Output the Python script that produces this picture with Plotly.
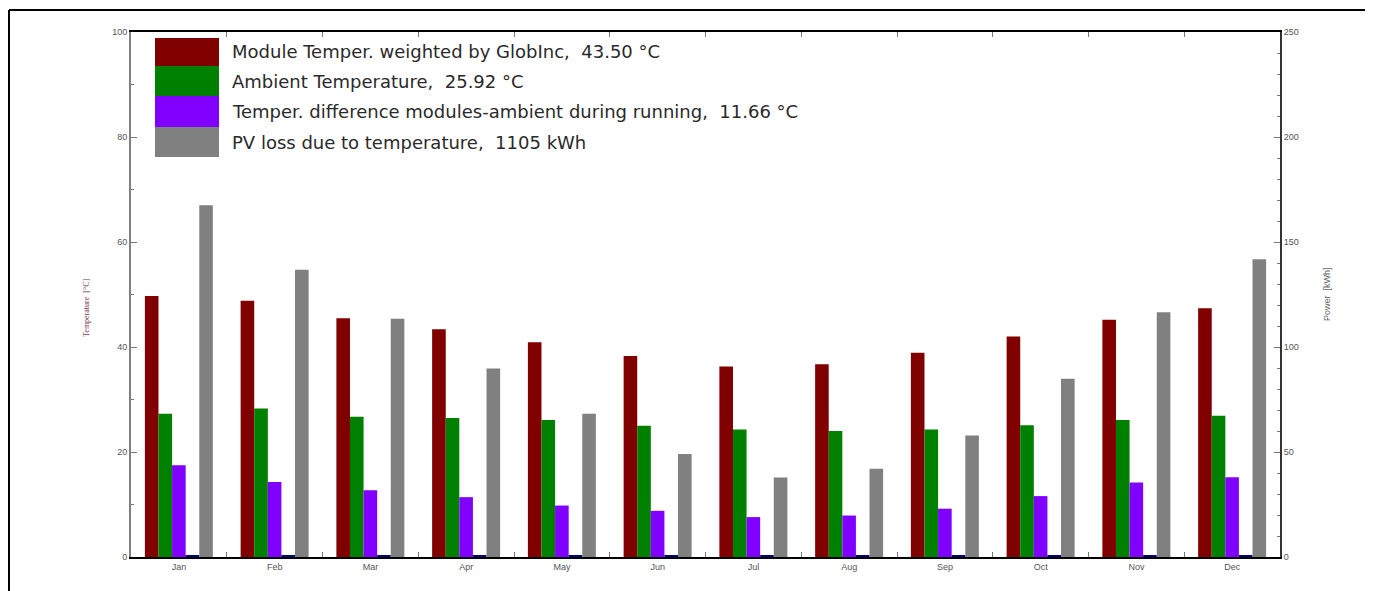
import plotly.graph_objects as go

months = ["Jan", "Feb", "Mar", "Apr", "May", "Jun", "Jul", "Aug", "Sep", "Oct", "Nov", "Dec"]
module_temp = [49.7, 48.8, 45.5, 43.4, 40.9, 38.3, 36.3, 36.7, 38.9, 42.0, 45.2, 47.4]
ambient_temp = [27.3, 28.3, 26.7, 26.5, 26.1, 25.0, 24.3, 24.0, 24.3, 25.1, 26.1, 26.9]
temp_diff = [17.5, 14.3, 12.7, 11.4, 9.8, 8.8, 7.6, 7.9, 9.2, 11.6, 14.2, 15.2]
baseline_marker = [0.3] * 12
pv_loss = [167.5, 136.8, 113.4, 89.8, 68.2, 49.1, 37.9, 42.0, 57.9, 84.9, 116.6, 141.8]

legend_labels = [
    "Module Temper. weighted by GlobInc,  43.50 °C",
    "Ambient Temperature,  25.92 °C",
    "Temper. difference modules-ambient during running,  11.66 °C",
    "PV loss due to temperature,  1105 kWh",
]
colors = ["#800000", "#008000", "#8000FF", "#808080"]
navy = "#000080"

# page has an 8px body margin
OFF = 8
W, H = 1373 - OFF, 591 - OFF
L, R, T, B = 131, 1280, 32, 557  # absolute screen px of plot area


def px_x(p):
    return (p - L) / (R - L)


def px_y(p):
    return (B - p) / (B - T)


bw = 0.142
off0 = -0.355

fig = go.Figure()
series = [
    (module_temp, colors[0], "y"),
    (ambient_temp, colors[1], "y"),
    (temp_diff, colors[2], "y"),
    (baseline_marker, navy, "y"),
    (pv_loss, colors[3], "y2"),
]
for k, (vals, col, ax) in enumerate(series):
    fig.add_trace(go.Bar(
        x=months, y=vals, yaxis=ax, width=bw, offset=off0 + k * bw,
        marker=dict(color=col, line=dict(width=0)), showlegend=False,
    ))

shapes = []
annotations = []
row_edges = [38, 66, 96, 127, 157]
for i, (lab, col) in enumerate(zip(legend_labels, colors)):
    shapes.append(dict(type="rect", xref="paper", yref="paper",
                       x0=px_x(155), x1=px_x(219),
                       y0=px_y(row_edges[i + 1]), y1=px_y(row_edges[i]),
                       fillcolor=col, line=dict(width=0), layer="above"))
    annotations.append(dict(text=lab, xref="paper", yref="paper",
                            x=px_x(230), y=px_y((row_edges[i] + row_edges[i + 1]) / 2),
                            xanchor="left", yanchor="middle", showarrow=False,
                            font=dict(family="DejaVu Sans", size=18, color="#2a2a2a")))

# outer frame lines (top and left)
shapes.append(dict(type="line", xref="paper", yref="paper",
                   x0=px_x(9), x1=px_x(1380), y0=px_y(10), y1=px_y(10),
                   line=dict(color="black", width=2)))
shapes.append(dict(type="line", xref="paper", yref="paper",
                   x0=px_x(9), x1=px_x(9), y0=px_y(10), y1=px_y(600),
                   line=dict(color="black", width=2)))

annotations.append(dict(text="Temperature  [°C]", xref="paper", yref="paper",
                        x=px_x(86), y=px_y(308), textangle=-90, showarrow=False,
                        xanchor="center", yanchor="middle",
                        font=dict(family="Liberation Serif, Times New Roman", size=8, color="#7a3050")))
annotations.append(dict(text="Power  [kWh]", xref="paper", yref="paper",
                        x=px_x(1327), y=px_y(294), textangle=-90, showarrow=False,
                        xanchor="center", yanchor="middle",
                        font=dict(family="Liberation Sans, Arial", size=9, color="#666666")))

tickfont = dict(family="Liberation Sans, Arial", size=9, color="#555555")

fig.update_layout(
    width=W, height=H,
    margin=dict(l=L - OFF, r=OFF + W - R, t=T - OFF, b=OFF + H - B, pad=0),
    paper_bgcolor="white", plot_bgcolor="white",
    barmode="overlay",
    showlegend=False,
    shapes=shapes,
    annotations=annotations,
    xaxis=dict(
        type="category", categoryorder="array", categoryarray=months,
        range=[-0.5, 11.5],
        showgrid=False, zeroline=False,
        showline=True, linecolor="black", linewidth=2, mirror="ticks",
        ticks="inside", tickson="boundaries", ticklen=5, tickcolor="#777777",
        tickfont=tickfont,
    ),
    yaxis=dict(
        range=[0, 100], dtick=20, tick0=0,
        showgrid=False, zeroline=False,
        showline=True, linecolor="#808080", linewidth=2,
        ticks="inside", ticklen=6, tickcolor="#777777", tickwidth=1,
        minor=dict(dtick=10, ticks="inside", ticklen=3, tickcolor="#777777"),
        tickfont=tickfont,
    ),
    yaxis2=dict(
        range=[0, 250], dtick=50, tick0=0, overlaying="y", side="right",
        showgrid=False, zeroline=False,
        showline=True, linecolor="#333333", linewidth=2,
        ticks="inside", ticklen=6, tickcolor="#777777", tickwidth=1,
        minor=dict(dtick=10, ticks="inside", ticklen=3, tickcolor="#777777"),
        tickfont=tickfont,
    ),
)

fig.write_html("out.html")
